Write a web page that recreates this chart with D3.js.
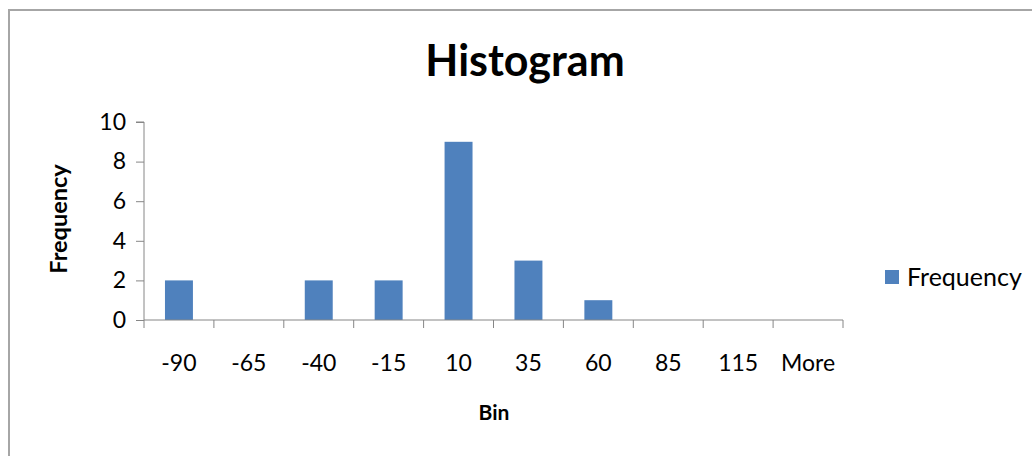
<!DOCTYPE html>
<html>
<head>
<meta charset="utf-8">
<script src="https://cdn.jsdelivr.net/npm/d3@7"></script>
<style>
  html, body { margin: 0; padding: 0; background: #fff; }
  svg { display: block; font-family: Lato, "Open Sans", sans-serif; }
</style>
</head>
<body>
<svg id="chart" width="1032" height="456"></svg>
<script>
const categories = ["-90", "-65", "-40", "-15", "10", "35", "60", "85", "115", "More"];
const frequency = [2, 0, 2, 2, 9, 3, 1, 0, 0, 0];
const yTicks = [0, 2, 4, 6, 8, 10];
const seriesName = "Frequency";

const svg = d3.select("#chart");
const W = 1032, H = 456;
const plot = { left: 144, right: 843, top: 122, bottom: 320 };

// outer border
svg.append("rect")
  .attr("x", 9).attr("y", 10)
  .attr("width", W + 20).attr("height", H + 20)
  .attr("fill", "#fff").attr("stroke", "#a6a6a6").attr("stroke-width", 2);

const xb = d3.scaleBand().domain(categories).range([plot.left, plot.right]);
const y = d3.scaleLinear().domain([0, 10]).range([plot.bottom, plot.top]);

// title
svg.append("text").attr("x", 525).attr("y", 76)
  .attr("text-anchor", "middle").attr("font-weight", "bold").attr("font-size", 43)
  .attr("fill", "#000").text("Histogram");

// bars
const barW = xb.bandwidth() * 0.4;
svg.append("g").selectAll("rect").data(frequency).join("rect")
  .attr("x", (d, i) => xb(categories[i]) + (xb.bandwidth() - barW) / 2)
  .attr("width", barW)
  .attr("y", d => y(d))
  .attr("height", d => y(0) - y(d))
  .attr("fill", "#4F81BD");

// y axis
const yAxis = svg.append("g").attr("transform", `translate(${plot.left},0)`)
  .call(d3.axisLeft(y).tickValues(yTicks).tickSize(8).tickPadding(10).tickFormat(d3.format("d")));
yAxis.select(".domain").attr("stroke", "#868686").attr("d", `M-8,${plot.top}H0V${plot.bottom}`);
yAxis.selectAll(".tick line").attr("stroke", "#868686");
yAxis.selectAll(".tick text").attr("font-size", 23).attr("fill", "#000").attr("font-family", "Lato");

// x axis (ticks at band boundaries)
const xAxisG = svg.append("g").attr("transform", `translate(0,${plot.bottom})`);
xAxisG.append("line").attr("x1", plot.left).attr("x2", plot.right).attr("stroke", "#868686");
const bounds = categories.map(c => xb(c)).concat([plot.right]);
xAxisG.selectAll("line.tk").data(bounds).join("line").attr("class", "tk")
  .attr("x1", d => d).attr("x2", d => d).attr("y1", 0).attr("y2", 8).attr("stroke", "#868686");
xAxisG.selectAll("text").data(categories).join("text")
  .attr("x", d => xb(d) + xb.bandwidth() / 2)
  .attr("y", 51)
  .attr("text-anchor", "middle").attr("font-size", 23).attr("fill", "#000")
  .text(d => d);

// axis titles
svg.append("text").attr("x", 494).attr("y", 420)
  .attr("text-anchor", "middle").attr("font-weight", "bold").attr("font-size", 21).text("Bin");
svg.append("text").attr("transform", "translate(67,219) rotate(-90)")
  .attr("text-anchor", "middle").attr("font-weight", "bold").attr("font-size", 23.5).text(seriesName);

// legend
const lg = svg.append("g");
lg.append("rect").attr("x", 885).attr("y", 270).attr("width", 14).attr("height", 14).attr("fill", "#4F81BD");
lg.append("text").attr("x", 907).attr("y", 286).attr("font-size", 25).attr("fill", "#000").text(seriesName);
</script>
</body>
</html>
